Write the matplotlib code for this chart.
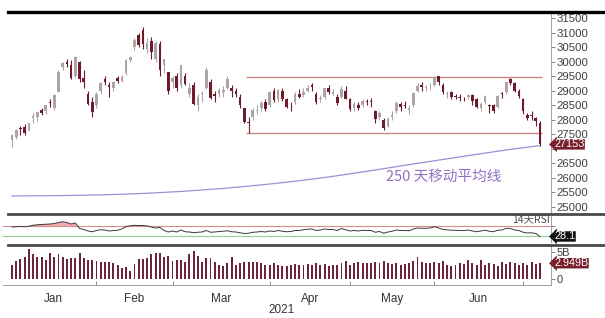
import numpy as np
import pandas as pd
import matplotlib
matplotlib.use('Agg')
import matplotlib.pyplot as plt
from matplotlib.lines import Line2D

plt.rcParams['font.family'] = ['Liberation Sans', 'Noto Sans CJK SC', 'DejaVu Sans']

# ---------------- data ----------------
holidays = ['2021-02-12', '2021-02-15', '2021-04-02', '2021-04-05', '2021-04-06',
            '2021-05-19', '2021-06-14', '2021-07-01']
dates = pd.bdate_range('2021-01-04', '2021-07-08')
dates = dates[~dates.isin(pd.to_datetime(holidays))]

opens = [27300, 27400, 27700, 27750, 27650, 28050, 28100, 28350, 28300, 28600,
         28400, 28950, 29800, 30000, 29900, 29500, 30000, 29450, 28900, 28600,
         28500, 29000, 29400, 29200, 29100, 29450, 29350, 29600, 30050, 30500,
         30900, 31100, 30450, 30700, 30100, 30600, 29900, 29650,
         29300, 29500, 29200, 29500, 28900, 29200, 28500, 28900, 29100, 29300,
         28900, 28900, 28950, 29100, 29100, 29000, 28800, 28400, 27900, 28100,
         28300, 28400, 28600,
         28500, 29000, 28700, 29000, 28700, 28500, 28600, 28900, 28850, 29000,
         29200, 28900, 28700, 28800, 29100, 28900, 28800, 28800, 29000,
         28700, 28400, 28500, 28500, 28650, 28650, 28300, 28100, 28000, 27800,
         28100, 28300, 28550, 28500, 28350, 28500, 29000, 29200, 29100, 29150,
         29200, 29500, 29200, 28900, 28950, 28800, 28800, 28750, 28800, 28850,
         28700, 28400, 28600, 28500, 28500, 28450, 28900, 28950, 29400, 29250,
         29000,
         28700, 28150, 28150, 28050, 27900]
highs = [27500, 27680, 27800, 27840, 27900, 28230, 28300, 28400, 28520, 28700,
         28900, 29700, 30000, 30100, 30050, 30190, 30010, 29700, 29000, 28800,
         28950, 29300, 29500, 29300, 29350, 29500, 29550, 30100, 30200, 30800,
         31000, 31183, 30800, 30850, 30700, 30700, 30100, 29650,
         29500, 29600, 29900, 29600, 29250, 29300, 28900, 29000, 29800, 29400,
         29000, 29100, 29150, 29500, 29200, 29100, 28900, 28400, 28100, 28400,
         28500, 28650, 28700,
         29000, 29100, 29050, 29100, 28750, 28600, 28950, 29050, 29100, 29200,
         29250, 28950, 28850, 29100, 29200, 29050, 28900, 29150, 29150,
         28750, 28600, 28600, 28700, 28700, 28750, 28350, 28300, 28050, 28100,
         28300, 28650, 28600, 28650, 28500, 28950, 29250, 29300, 29200, 29250,
         29500, 29500, 29250, 29000, 29000, 28900, 28900, 28800, 28900, 28900,
         28750, 28600, 28850, 28550, 28550, 28850, 28950, 29300, 29450, 29300,
         29050,
         28750, 28250, 28300, 28100, 27950]
lows = [27050, 27330, 27480, 27470, 27600, 27880, 27950, 28150, 28200, 28450,
        28350, 28950, 29700, 29800, 29400, 29450, 29300, 29100, 28500, 28100,
        28400, 28900, 29200, 28800, 29000, 29250, 29300, 29550, 30000, 30400,
        30500, 30450, 30300, 30100, 30000, 29500, 29600, 28900,
        29100, 29000, 29100, 29200, 28800, 28500, 28300, 28600, 29050, 28700,
        28600, 28800, 28800, 29050, 28800, 28800, 28400, 27900, 27550, 28000,
        28200, 28300, 28300,
        28450, 28600, 28600, 28650, 28400, 28300, 28550, 28750, 28800, 28950,
        29000, 28550, 28600, 28700, 28900, 28850, 28500, 28750, 28700,
        28300, 28300, 28350, 28450, 28500, 28450, 27900, 28000, 27650, 27750,
        28000, 28250, 28300, 28400, 28200, 28450, 28950, 29000, 29000, 29050,
        29150, 29200, 28900, 28750, 28700, 28700, 28650, 28650, 28700, 28500,
        28400, 28300, 28550, 28250, 28250, 28400, 28750, 28900, 29200, 28950,
        28750,
        28200, 28000, 28000, 27800, 27100]
closes = [27472, 27649, 27692, 27548, 27878, 28139, 28276, 28235, 28497, 28573,
          28862, 29642, 29962, 29927, 29447, 30159, 29391, 29297, 28550, 28284,
          28893, 29249, 29307, 29113, 29289, 29319, 29476, 30039, 30173, 30746,
          30584, 30595, 30644, 30319, 30632, 29718, 30074, 28980,
          29452, 29095, 29880, 29236, 29098, 28541, 28773, 28907, 29718, 28739,
          28834, 29028, 29034, 29405, 28990, 28885, 28497, 27918, 27899, 28336,
          28338, 28577, 28378,
          28939, 28674, 29008, 28698, 28453, 28497, 28900, 28793, 28969, 29106,
          29135, 28621, 28755, 29078, 28952, 28941, 28574, 29071, 28725,
          28357, 28557, 28418, 28637, 28610, 28595, 28014, 28231, 27718, 28027,
          28173, 28593, 28450, 28458, 28412, 28910, 29166, 29113, 29124, 29151,
          29468, 29297, 28966, 28918, 28787, 28781, 28739, 28739, 28842, 28638,
          28437, 28559, 28801, 28489, 28309, 28817, 28882, 29288, 29268, 28994,
          28828,
          28310, 28072, 28143, 27960, 27153]

volume_b = [2.6, 3.4, 3.7, 4.2, 5.7, 4.6, 4.1, 4.1, 3.6, 4.9,
            4.1, 4.7, 4.2, 3.7, 3.9, 3.9, 4.9, 3.9, 3.6, 3.6,
            3.3, 3.2, 3.1, 3.2, 2.9, 2.7, 2.1, 2.3, 1.4, 2.8,
            3.8, 3.7, 4.0, 4.6, 4.9, 4.9, 4.1, 4.4,
            3.3, 3.6, 3.5, 3.2, 4.6, 5.3, 4.4, 3.2, 3.9, 3.9,
            3.2, 2.7, 2.4, 3.0, 4.1, 2.7, 3.0, 3.2, 3.1, 3.1,
            3.2, 3.0, 2.7,
            2.6, 3.0, 2.6, 2.4, 2.5, 2.7, 2.8, 2.6, 2.7, 2.8,
            2.6, 2.9, 2.7, 2.8, 2.5, 2.6, 2.7, 2.9, 3.3,
            2.6, 2.9, 3.1, 3.0, 2.9, 2.9, 3.1, 3.0, 3.3, 2.9,
            2.8, 3.0, 2.6, 2.8, 2.9, 3.4, 4.1, 3.2, 3.0, 2.9,
            3.1, 2.9, 3.3, 2.6, 2.4, 2.7, 2.9, 2.8, 3.6, 2.9,
            2.6, 3.6, 2.7, 3.0, 2.8, 2.5, 3.2, 2.8, 3.1, 2.9,
            2.7,
            2.9, 2.7, 3.1, 2.8, 2.949]

rsi = [66, 67, 68, 67, 69, 73, 75, 76, 77, 78,
       80, 84, 87, 84, 78, 82, 60, 56, 50, 47,
       52, 55, 54, 50, 52, 53, 58, 68, 71, 73,
       72, 72, 70, 66, 62, 64, 52, 46,
       50, 46, 54, 47, 46, 43, 45, 46, 52, 45,
       46, 48, 49, 51, 47, 46, 43, 40, 41, 45,
       46, 48, 46,
       50, 48, 52, 49, 47, 48, 52, 52, 55, 57,
       58, 52, 54, 58, 56, 56, 52, 60, 55,
       50, 52, 50, 53, 52, 52, 45, 48, 41, 46,
       49, 54, 52, 52, 51, 58, 62, 61, 61, 62,
       67, 62, 56, 55, 53, 53, 52, 52, 54, 50,
       47, 50, 53, 49, 47, 53, 54, 61, 60, 54,
       52,
       45, 42, 43, 40, 28.1]

ma_step_idx = [0, 5, 10, 15, 20, 25, 30, 35, 40, 45, 50, 55, 60, 65, 70, 75,
               80, 85, 90, 95, 100, 105, 110, 115, 120, 125]
ma250 = [25380, 25385, 25390, 25400, 25415, 25435, 25460, 25495, 25535, 25585,
         25640, 25705, 25775, 25855, 25940, 26035, 26140, 26250, 26365, 26480,
         26590, 26700, 26810, 26920, 27020, 27110]

range_levels = [29470, 27545]
range_start = '2021-03-25'

price_ticks = [31500, 31000, 30500, 30000, 29500, 29000, 28500, 28000, 27500,
               27000, 26500, 26000, 25500, 25000]

# ---------------- style ----------------
UP = '#aca5a7'
DOWN = '#6f1b2c'
VOLC = '#6e2438'
LBL = '#404040'
W, H = 605, 318

fig = plt.figure(figsize=(W / 100, H / 100), dpi=100)

def rect(left, top, right, bottom):
    return [left / W, 1 - bottom / H, (right - left) / W, (bottom - top) / H]

ax = fig.add_axes(rect(3, 11, 551, 212))
axr = fig.add_axes(rect(3, 216, 551, 242), sharex=ax)
axv = fig.add_axes(rect(3, 247, 551, 285), sharex=ax)

n = len(closes)
x = np.arange(n)
o = np.array(opens, float)
c = np.array(closes, float)
h = np.array(highs, float)
l = np.array(lows, float)
up = c >= o
cols = np.where(up, UP, DOWN)

ax.vlines(x, l, h, colors=cols, lw=0.8, zorder=2)
body = np.maximum(np.abs(c - o), 25)
ax.bar(x, body, bottom=np.minimum(o, c), width=0.62, color=cols, linewidth=0, zorder=3)

# moving average
ax.plot(ma_step_idx, ma250, color='#9d8fd6', lw=0.9, zorder=1)
fig.text(444 / W, 1 - 177 / H, '250 天移动平均线', color='#8f6fc4', fontsize=10.5,
         ha='center', va='center', family=['Noto Sans CJK SC', 'DejaVu Sans'])

# range lines
rs = int(np.where(dates == pd.Timestamp(range_start))[0][0])
ax.hlines(range_levels, rs - 0.5, n - 0.5, colors='#c98a86', lw=1.0, zorder=1)

ax.set_ylim(24828, 31741)
ax.set_xlim(-2.13, 127.6)
ax.set_yticks(price_ticks)
ax.set_yticklabels([str(t) if t != 27000 else '' for t in price_ticks])

for a in (ax, axr, axv):
    a.yaxis.tick_right()
    a.tick_params(axis='y', direction='out', length=3, width=0.6, colors='#707070',
                  labelcolor=LBL, labelsize=8.2, pad=1)
    for s in ('left', 'top', 'bottom'):
        a.spines[s].set_visible(False)
    a.spines['right'].set_color('#a0a0a0')
    a.spines['right'].set_linewidth(0.7)
    a.tick_params(axis='x', bottom=False, labelbottom=False)
    a.set_facecolor('none')

box_kw = dict(ha='left', va='center', fontsize=7.8, color='white', zorder=10, clip_on=False)

# price last label (slightly below centre so it clears the 27500 label)
ax.text(1.006, closes[-1], f'{closes[-1]}', transform=ax.get_yaxis_transform(),
        bbox=dict(boxstyle='larrow,pad=0.02', fc='#7a1f2d', ec='none'), **box_kw)

# RSI panel
axr.plot(x, rsi, color='#3a3a3a', lw=0.7, zorder=3)
rsi_a = np.array(rsi, float)
axr.fill_between(x, 70, rsi_a, where=rsi_a > 70, interpolate=True,
                 color='#f2a9a9', lw=0, zorder=2)
axr.axhline(70, color='#d98c8c', lw=0.8, zorder=1)
axr.axhline(30, color='#8ed08e', lw=0.8, zorder=1)
axr.set_ylim(6, 110)
axr.set_yticks([70])
axr.set_yticklabels([''])
axr.text(0.998, 76, '14天RSI', transform=axr.get_yaxis_transform(), ha='right',
         va='bottom', fontsize=7.5, color='#505050',
         family=['Noto Sans CJK SC', 'DejaVu Sans'])
axr.text(1.006, rsi[-1], f'{rsi[-1]:.1f}', transform=axr.get_yaxis_transform(),
         bbox=dict(boxstyle='larrow,pad=0.02', fc='#111111', ec='none'), **box_kw)

# volume panel
axv.bar(x, volume_b, width=0.45, color=VOLC, linewidth=0)
axv.set_ylim(-1.15, 6.0)
axv.set_yticks([0, 5])
axv.set_yticklabels(['0', '5B'])
axv.tick_params(axis='y', labelsize=8)
axv.spines['bottom'].set_visible(True)
axv.spines['bottom'].set_color('#a0a0a0')
axv.spines['bottom'].set_linewidth(0.7)
axv.text(1.006, volume_b[-1], f'{volume_b[-1]:.3f}B', transform=axv.get_yaxis_transform(),
         bbox=dict(boxstyle='larrow,pad=0.02', fc='#7a1f2d', ec='none'), **box_kw)

# month ticks & labels
months = dates.to_period('M')
starts = [i for i in range(1, n) if months[i] != months[i - 1]]
bounds = [-0.5] + starts
names = [dates[b if b >= 0 else 0].strftime('%b') for b in bounds]
axv.set_xticks(starts)
axv.tick_params(axis='x', bottom=True, direction='in', length=3, width=0.7,
                colors='#909090', labelbottom=False)
for i in range(len(bounds) - 1):
    mid = (bounds[i] + bounds[i + 1]) / 2
    axv.text(mid, -0.2, names[i], transform=axv.get_xaxis_transform(),
             ha='center', va='top', fontsize=8.5, color='#333333')
fig.text(282 / W, 1 - 310 / H, '2021', ha='center', va='center', fontsize=8.5,
         color='#333333')

# separators
fig.add_artist(Line2D([8 / W, 1], [1 - 11.5 / H] * 2, color='black', lw=2.4))
fig.add_artist(Line2D([8 / W, 1], [1 - 214 / H] * 2, color='#4a4a4a', lw=2.0))
fig.add_artist(Line2D([8 / W, 1], [1 - 245 / H] * 2, color='#4a4a4a', lw=2.0))

fig.savefig('out.png', dpi=100, facecolor='white')
